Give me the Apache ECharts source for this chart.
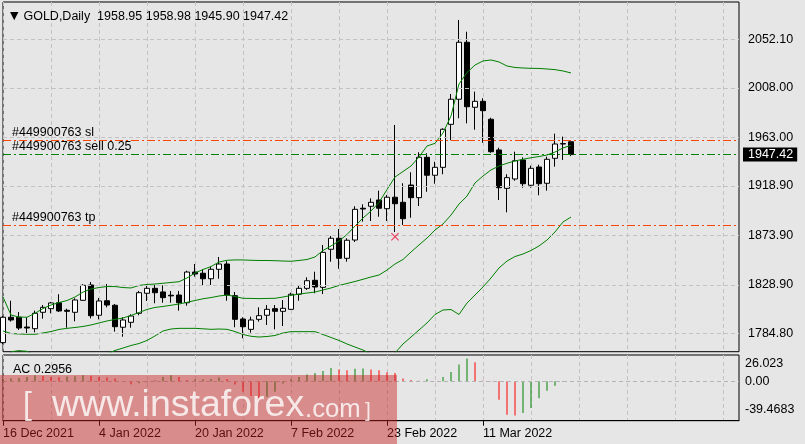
<!DOCTYPE html>
<html><head><meta charset="utf-8">
<script src="https://cdn.jsdelivr.net/npm/echarts/dist/echarts.min.js"></script>
<style>html,body{margin:0;padding:0;background:#e6e6e6;}#c{width:805px;height:444px;}</style>
</head><body><div id="c"></div>
<script>
const dates = ['16 Dec 2021','17 Dec 2021','20 Dec 2021','21 Dec 2021','22 Dec 2021','23 Dec 2021','27 Dec 2021','28 Dec 2021','29 Dec 2021','30 Dec 2021','31 Dec 2021',
'3 Jan 2022','4 Jan 2022','5 Jan 2022','6 Jan 2022','7 Jan 2022','10 Jan 2022','11 Jan 2022','12 Jan 2022','13 Jan 2022','14 Jan 2022','17 Jan 2022','18 Jan 2022','19 Jan 2022','20 Jan 2022','21 Jan 2022','24 Jan 2022','25 Jan 2022','26 Jan 2022','27 Jan 2022','28 Jan 2022','31 Jan 2022',
'1 Feb 2022','2 Feb 2022','3 Feb 2022','4 Feb 2022','7 Feb 2022','8 Feb 2022','9 Feb 2022','10 Feb 2022','11 Feb 2022','14 Feb 2022','15 Feb 2022','16 Feb 2022','17 Feb 2022','18 Feb 2022','21 Feb 2022','22 Feb 2022','23 Feb 2022','24 Feb 2022','25 Feb 2022','28 Feb 2022',
'1 Mar 2022','2 Mar 2022','3 Mar 2022','4 Mar 2022','7 Mar 2022','8 Mar 2022','9 Mar 2022','10 Mar 2022','11 Mar 2022','14 Mar 2022','15 Mar 2022','16 Mar 2022','17 Mar 2022','18 Mar 2022','21 Mar 2022','22 Mar 2022','23 Mar 2022','24 Mar 2022','25 Mar 2022','28 Mar 2022'];

const opens  = [1776.3,1799.4,1799.4,1790.5,1789.0,1803.9,1807.2,1812.6,1805.7,1803.9,1814.8,1828.7,1801.2,1814.4,1810.3,1790.3,1794.8,1803.0,1821.2,1825.7,1822.4,1819.4,1819.6,1812.6,1840.5,1839.4,1834.4,1843.0,1847.8,1819.0,1797.8,1788.4,1797.5,1801.2,1807.2,1804.8,1806.6,1820.3,1825.7,1833.0,1826.6,1861.2,1871.2,1853.0,1869.6,1898.5,1900.3,1906.0,1898.1,1908.5,1903.9,1919.6,1908.1,1944.8,1928.5,1935.7,1974.8,1997.6,2049.4,1990.3,1995.7,1979.4,1951.5,1916.6,1925.1,1942.4,1919.4,1936.0,1921.2,1943.9,1956.9,1958.95];
const highs  = [1800.5,1814.4,1804.2,1799.4,1805.4,1810.5,1813.3,1820.3,1807.2,1816.6,1829.4,1831.4,1816.9,1829.6,1811.4,1799.4,1802.1,1823.3,1828.1,1828.7,1828.4,1823.3,1823.3,1841.7,1847.8,1843.0,1845.4,1854.2,1850.3,1822.4,1799.4,1799.9,1808.4,1810.5,1810.5,1815.1,1821.7,1828.7,1835.7,1840.8,1865.1,1873.3,1879.6,1871.2,1900.3,1902.1,1907.5,1914.5,1910.5,1974.2,1921.2,1931.2,1949.4,1948.5,1940.8,1971.2,2002.4,2069.7,2059.0,2004.5,1998.5,1980.8,1953.5,1929.4,1949.9,1944.8,1937.2,1938.1,1945.4,1966.3,1963.6,1958.98];
const lows   = [1775.0,1795.4,1787.8,1784.2,1785.7,1798.1,1803.0,1804.2,1789.9,1795.7,1814.2,1798.4,1797.5,1808.4,1786.3,1781.7,1789.9,1801.2,1814.2,1812.1,1812.6,1812.6,1805.4,1809.9,1836.3,1828.1,1828.7,1834.4,1814.4,1790.3,1780.3,1785.4,1795.4,1792.4,1788.4,1791.4,1806.0,1814.4,1824.2,1821.2,1820.5,1849.9,1843.5,1849.9,1867.8,1886.3,1886.9,1890.8,1886.9,1876.9,1883.3,1889.9,1900.5,1913.5,1920.8,1929.4,1960.3,1980.3,1975.7,1969.9,1958.1,1949.0,1906.0,1894.8,1923.5,1917.2,1917.2,1910.3,1914.5,1936.3,1942.4,1945.90];
const closes = [1799.4,1796.9,1789.6,1789.6,1803.0,1808.4,1812.4,1805.1,1804.8,1815.1,1828.4,1800.8,1814.2,1810.5,1790.8,1796.9,1800.5,1821.7,1825.7,1821.7,1817.2,1818.8,1812.6,1840.5,1838.7,1834.4,1843.0,1847.8,1819.6,1797.5,1790.8,1796.9,1800.8,1806.6,1804.8,1807.5,1820.3,1825.7,1832.6,1826.9,1858.4,1871.2,1853.0,1869.4,1897.5,1897.8,1903.9,1898.5,1908.5,1902.6,1889.0,1908.1,1944.8,1928.5,1935.7,1970.3,1997.6,2049.4,1990.8,1995.7,1987.2,1949.9,1917.2,1926.3,1941.7,1920.8,1934.8,1920.8,1943.0,1956.9,1957.3,1947.42];

const bbUpper  = [1817.8,1801.4,1799.6,1799.4,1803.0,1807.3,1810.5,1812.8,1814.6,1817.8,1822.3,1825.1,1826.4,1827.3,1827.3,1826.4,1826.0,1828.3,1829.2,1829.6,1830.3,1831.0,1831.7,1835.1,1839.6,1842.8,1845.5,1849.6,1851.2,1851.5,1851.5,1851.2,1851.0,1851.0,1850.8,1850.5,1850.3,1851.0,1851.9,1854.2,1860.1,1864.2,1868.7,1874.6,1882.3,1889.6,1896.0,1903.7,1915.5,1926.9,1931.9,1936.9,1945.1,1955.1,1957.5,1966.9,1982.4,2011.5,2021.9,2028.7,2032.4,2033.3,2031.5,2027.8,2026.5,2026.0,2025.7,2025.6,2025.1,2024.5,2023.3,2021.5];
const bbMiddle = [1786.9,1784.6,1784.2,1783.9,1783.9,1785.1,1786.4,1788.3,1789.3,1790.1,1791.0,1792.4,1794.2,1796.0,1797.4,1798.7,1801.0,1803.7,1806.5,1808.3,1809.2,1810.3,1811.4,1813.0,1814.6,1816.2,1817.3,1818.7,1819.6,1818.3,1816.6,1816.5,1816.3,1816.5,1816.6,1817.8,1819.2,1820.5,1821.4,1822.3,1824.2,1826.0,1828.3,1830.1,1831.9,1833.9,1836.0,1837.8,1842.3,1847.8,1851.9,1858.7,1865.1,1871.4,1878.7,1884.2,1892.3,1902.3,1909.6,1921.5,1927.8,1933.3,1936.9,1939.4,1941.5,1943.0,1944.4,1945.5,1946.9,1949.6,1953.3,1955.7];
const bbLower  = [1756.0,1768.0,1769.0,1768.4,1764.8,1762.9,1762.3,1763.8,1764.0,1762.4,1759.7,1759.7,1762.3,1766.0,1769.2,1771.4,1773.7,1775.5,1778.3,1782.4,1786.9,1788.7,1789.3,1789.3,1789.3,1788.9,1788.4,1788.7,1788.4,1786.4,1783.7,1782.1,1781.4,1781.9,1782.8,1785.1,1786.3,1786.3,1786.3,1786.3,1783.7,1781.0,1778.3,1775.1,1772.3,1769.6,1766.0,1763.2,1762.3,1766.9,1775.1,1781.4,1787.8,1794.2,1801.9,1806.0,1806.4,1801.9,1812.3,1819.6,1826.9,1835.1,1844.2,1850.5,1854.6,1856.9,1860.1,1864.2,1869.6,1876.9,1886.0,1890.5];

const acValues = [2.3,3.0,3.8,4.9,6.8,6.0,4.9,4.5,5.3,5.7,6.8,6.4,4.9,4.2,3.0,-0.4,-3.4,-2.3,-1.1,1.1,4.9,6.8,4.9,1.5,1.9,2.3,2.6,4.2,2.6,-3.8,-12.1,-17.0,-19.7,-17.8,-12.1,-2.6,2.3,4.9,7.6,9.5,11.7,15.1,13.6,12.5,14.4,14.7,13.6,12.5,10.2,9.5,3.0,1.5,0.4,2.3,0.2,4.9,10.6,19.3,26.023,21.9,0.4,0.2,-21.5,-38.6,-39.4683,-36.7,-31.0,-19.7,-11.0,-5.3,-0.8,0.2956];

const priceTicks = [2052.10, 2008.00, 1963.00, 1918.90, 1873.90, 1828.90, 1784.80];
const acTicks = [26.023, 0, -39.4683];
const acTickLabels = ['26.023', '0.00', '-39.4683'];
const headerText = 'GOLD,Daily  1958.95 1958.98 1945.90 1947.42';
const acHeaderText = 'AC 0.2956';
const orderId = '#449900763';
const slPrice = 1960.3, entryPrice = 1947.5, tpPrice = 1883.3, bidPrice = 1947.42;
const dealMark = ['24 Feb 2022', 1872.6];
const emptySlots = 21;

const FONT = "'Liberation Sans', Arial, sans-serif";
const FS = 12.5;
const cats = dates.concat(Array.from({length: emptySlots}, (_, i) => ' '.repeat(i + 1)));
const candleData = dates.map((d, i) => [opens[i], closes[i], lows[i], highs[i]]);
const gridLine = {color: '#c3c3c3', type: [4, 3], width: 1};
const dashDot = [8, 3, 2, 3];
const dateTick = idx => idx % 12 === 0 && idx < dates.length;

const chart = echarts.init(document.getElementById('c'), null, {renderer: 'canvas'});
chart.setOption({
  animation: false,
  backgroundColor: '#e6e6e6',
  textStyle: {fontFamily: FONT},
  title: [
    {text: '{t|▼}' + headerText, left: 5, top: 5,
     textStyle: {color: '#000', fontSize: FS, fontWeight: 'normal', fontFamily: FONT,
       rich: {t: {fontSize: 11, padding: [0, 5, 0, 0], verticalAlign: 'middle', color: '#000', fontFamily: 'DejaVu Sans'}}}},
    {text: acHeaderText, left: 8, top: 358,
     textStyle: {color: '#000', fontSize: FS, fontWeight: 'normal', fontFamily: FONT}}
  ],
  grid: [
    {left: 3, top: 2, width: 736, height: 349.7, show: true, borderColor: '#000', borderWidth: 1, backgroundColor: 'transparent'},
    {left: 3, top: 355, width: 736, height: 65.7, show: true, borderColor: '#000', borderWidth: 1, backgroundColor: 'transparent'}
  ],
  xAxis: [
    {type: 'category', gridIndex: 0, data: cats, boundaryGap: false,
     axisLine: {show: false, onZero: false}, axisTick: {show: false}, axisLabel: {show: false},
     splitLine: {show: true, interval: 5, lineStyle: gridLine}},
    {type: 'category', gridIndex: 1, data: cats, boundaryGap: false, position: 'bottom',
     axisLine: {show: true, onZero: false, lineStyle: {color: '#000', width: 1}},
     axisTick: {show: true, interval: dateTick, length: 5, lineStyle: {color: '#000'}},
     axisLabel: {show: true, interval: dateTick, align: 'left', margin: 6, color: '#000', fontSize: FS, fontFamily: FONT},
     splitLine: {show: true, interval: 5, lineStyle: gridLine}}
  ],
  yAxis: [
    {type: 'value', gridIndex: 0, position: 'right', min: 1768.07, max: 2086.01,
     splitLine: {show: false}, axisLine: {show: false},
     axisTick: {show: false, customValues: priceTicks},
     axisLabel: {customValues: priceTicks, formatter: v => v.toFixed(2), margin: 9, color: '#000', fontSize: FS, fontFamily: FONT}},
    {type: 'value', gridIndex: 1, position: 'right', min: -45.48, max: 30.17,
     splitLine: {show: false}, axisLine: {show: false},
     axisTick: {show: false, customValues: acTicks},
     axisLabel: {customValues: acTicks, margin: 6, color: '#000', fontSize: FS, fontFamily: FONT,
       formatter: v => {
         const i = acTicks.indexOf(v);
         const s = i >= 0 ? acTickLabels[i] : String(v);
         return i === 0 ? '{t|' + s + '}' : (i === 2 ? '{b|' + s + '}' : '{m|' + s + '}');
       },
       rich: {
         t: {padding: [9, 0, 0, 0], fontSize: FS, fontFamily: FONT, color: '#000'},
         b: {padding: [0, 0, 12, 0], fontSize: FS, fontFamily: FONT, color: '#000'},
         m: {fontSize: FS, fontFamily: FONT, color: '#000'}
       }}}
  ],
  series: [
    {type: 'line', xAxisIndex: 0, yAxisIndex: 0, data: [], silent: true, z: 1,
     markLine: {symbol: 'none', silent: true, animation: false, label: {show: false},
       lineStyle: gridLine, data: priceTicks.map(v => ({yAxis: v}))}},
    {type: 'candlestick', xAxisIndex: 0, yAxisIndex: 0, data: candleData, barWidth: 5, z: 2,
     itemStyle: {color: '#ffffff', color0: '#000000', borderColor: '#000000', borderColor0: '#000000', borderWidth: 1}},
    {type: 'line', xAxisIndex: 0, yAxisIndex: 0, data: bbUpper, symbol: 'none', z: 3, lineStyle: {color: '#008000', width: 1}},
    {type: 'line', xAxisIndex: 0, yAxisIndex: 0, data: bbMiddle, symbol: 'none', z: 3, lineStyle: {color: '#008000', width: 1}},
    {type: 'line', xAxisIndex: 0, yAxisIndex: 0, data: bbLower, symbol: 'none', z: 3, lineStyle: {color: '#008000', width: 1}},
    {type: 'line', xAxisIndex: 0, yAxisIndex: 0, data: [], silent: true, z: 4,
     markLine: {symbol: 'none', silent: true, animation: false,
       label: {show: true, position: 'insideStartTop', distance: [9, 1], color: '#000', fontSize: FS, fontFamily: FONT},
       data: [
         {yAxis: slPrice, lineStyle: {color: '#ff4500', type: dashDot, width: 1}, label: {formatter: orderId + ' sl'}},
         {yAxis: entryPrice, lineStyle: {color: '#008000', type: dashDot, width: 1}, label: {formatter: orderId + ' sell 0.25'}},
         {yAxis: tpPrice, lineStyle: {color: '#ff4500', type: dashDot, width: 1}, label: {formatter: orderId + ' tp'}}
       ]}},
    {type: 'line', xAxisIndex: 0, yAxisIndex: 0, data: [], silent: true, z: 6,
     markLine: {symbol: 'none', silent: true, animation: false,
       lineStyle: {color: 'rgba(0,0,0,0)', width: 1, type: 'solid'},
       label: {show: true, position: 'end', distance: 4, formatter: bidPrice.toFixed(2),
         color: '#ffffff', backgroundColor: '#000000', padding: [1, 4, 0, 5], fontSize: FS, fontFamily: FONT},
       data: [{yAxis: bidPrice}]}},
    {type: 'scatter', xAxisIndex: 0, yAxisIndex: 0, data: [dealMark], z: 5, silent: true,
     symbol: 'path://M1,0 L5,4 L9,0 L10,1 L6,5 L10,9 L9,10 L5,6 L1,10 L0,9 L4,5 L0,1 Z',
     symbolSize: 8, itemStyle: {color: '#f0143c'}},
    {type: 'line', xAxisIndex: 1, yAxisIndex: 1, data: [], silent: true, z: 1,
     markLine: {symbol: 'none', silent: true, animation: false, label: {show: false},
       lineStyle: {color: '#b4b4b4', type: [4, 3], width: 1}, data: [{yAxis: 0}]}},
    {type: 'bar', xAxisIndex: 1, yAxisIndex: 1, data: acValues, barWidth: 1, z: 3, silent: true,
     itemStyle: {color: p => (p.dataIndex === 0 || acValues[p.dataIndex] > acValues[p.dataIndex - 1]) ? '#008000' : '#ff0000'}}
  ],
  graphic: [
    {type: 'rect', left: 0, top: 375, z: 100, silent: true, shape: {width: 397, height: 69}, style: {fill: 'rgba(200,30,30,0.45)'}},
    {type: 'text', z: 101, silent: true, style: {x: 23, y: 405, text: '[', fontSize: 32, fontFamily: FONT, fill: 'rgba(255,255,255,0.8)', verticalAlign: 'middle', align: 'left'}},
    {type: 'text', z: 101, silent: true, style: {x: 52, y: 406, text: 'www.instaforex', fontSize: 37.5, fontFamily: FONT, fill: 'rgba(255,255,255,0.8)', verticalAlign: 'middle', align: 'left'}},
    {type: 'text', z: 101, silent: true, style: {x: 305, y: 410, text: '.com', fontSize: 25.7, fontFamily: FONT, fill: 'rgba(255,255,255,0.8)', verticalAlign: 'middle', align: 'left'}},
    {type: 'text', z: 101, silent: true, style: {x: 365, y: 411, text: ']', fontSize: 21, fontFamily: FONT, fill: 'rgba(255,255,255,0.8)', verticalAlign: 'middle', align: 'left'}}
  ]
});
</script></body></html>
